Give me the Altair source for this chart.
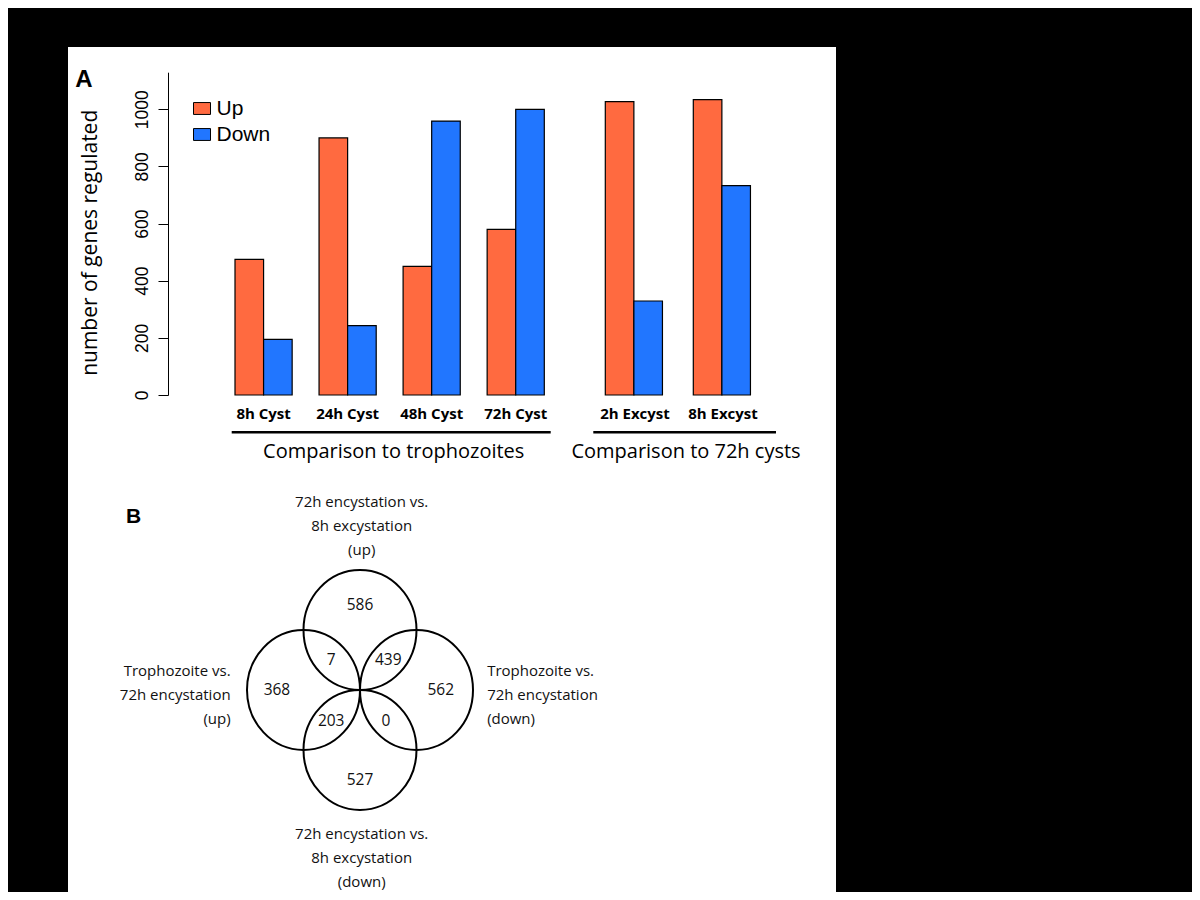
import altair as alt
import pandas as pd

# ---------------- Panel A data ----------------
cyst_samples = ["8h Cyst", "24h Cyst", "48h Cyst", "72h Cyst"]
excyst_samples = ["2h Excyst", "8h Excyst"]
directions = ["Up", "Down"]
cyst_up = [475, 900, 450, 580]
cyst_down = [195, 243, 959, 1000]
excyst_up = [1027, 1034]
excyst_down = [329, 733]
y_ticks = [0, 200, 400, 600, 800, 1000]
bar_colors = ["#FF6A40", "#2176FF"]
group_titles = ["Comparison to trophozoites", "Comparison to 72h cysts"]

# ---------------- Panel B data ----------------
venn_set_names = [
    "72h encystation vs.\n8h excystation\n(up)",
    "Trophozoite vs.\n72h encystation\n(up)",
    "Trophozoite vs.\n72h encystation\n(down)",
    "72h encystation vs.\n8h excystation\n(down)",
]
venn_counts = [586, 7, 439, 368, 562, 203, 0, 527]

# Venn layout (abstract units, one circle radius = 1)
circle_cx = [0, -1, 1, 0]
circle_cy = [1, 0, 0, -1]
count_px = [0, -0.51, 0.5, -1.47, 1.43, -0.51, 0.46, 0]
count_py = [1.42, 0.5, 0.5, 0, 0, -0.51, -0.51, -1.5]
label_px = [0.03, -2.29, 2.25, 0.03]
label_py = [3.14, 0.32, 0.32, -2.40]


def bars_df(samples, up, down):
    rows = []
    for s, u, d in zip(samples, up, down):
        rows.append({"sample": s, "dir": "Up", "n": u})
        rows.append({"sample": s, "dir": "Down", "n": d})
    return pd.DataFrame(rows)


yscale = alt.Scale(domain=[0, 1130], range=[348, 25.2], nice=False, zero=True)

legend = alt.Legend(
    title=None, orient="none", legendX=123.5, legendY=51,
    symbolType="M -1 -0.7 H 1 V 0.7 H -1 Z", symbolSize=289,
    symbolStrokeColor="black", symbolStrokeWidth=1, symbolOpacity=1,
    labelFont="Liberation Sans", labelFontSize=21, labelColor="black",
    labelOffset=4, rowPadding=4, padding=0,
)
color = alt.Color("dir:N", sort=directions,
                  scale=alt.Scale(domain=directions, range=bar_colors),
                  legend=legend)


def xaxis():
    return alt.Axis(orient="bottom", offset=-497, domain=False, ticks=False,
                    tickSize=0, labelPadding=11, labelFont="Open Sans",
                    labelFontWeight="bold", labelFontSize=15,
                    labelColor="black", title=None, labelAngle=0)


yaxis = alt.Axis(
    orient="left", offset=-100, values=y_ticks, format="d", tickSize=10,
    tickColor="black", domainColor="black", tickWidth=1, domainWidth=1,
    labelFont="Liberation Sans", labelFontSize=17.5, labelAngle=270,
    labelAlign="center", labelBaseline="alphabetic", labelPadding=11,
    labelColor="black", labelOverlap=False, grid=False,
    title="number of genes regulated", titleFont="Open Sans",
    titleFontSize=21, titleFontWeight="normal", titleColor="black",
    titleAngle=270, titleAlign="center", titleBaseline="middle",
    titleX=-78, titleY=195.3,
)

left = alt.Chart(bars_df(cyst_samples, cyst_up, cyst_down)).mark_bar(
    stroke="black", strokeWidth=1.2
).encode(
    x=alt.X("sample:N", sort=cyst_samples,
            scale=alt.Scale(range=[167, 476.3], paddingInner=0.32, paddingOuter=0),
            axis=xaxis()),
    xOffset=alt.XOffset("dir:N", sort=directions,
                        scale=alt.Scale(paddingInner=0, paddingOuter=0)),
    y=alt.Y("n:Q", scale=yscale, axis=yaxis),
    color=color,
)

right = alt.Chart(bars_df(excyst_samples, excyst_up, excyst_down)).mark_bar(
    stroke="black", strokeWidth=1.2
).encode(
    x=alt.X("sample:N", sort=excyst_samples,
            scale=alt.Scale(range=[537.3, 684.7], paddingInner=0.325, paddingOuter=0),
            axis=xaxis()),
    xOffset=alt.XOffset("dir:N", sort=directions,
                        scale=alt.Scale(paddingInner=0, paddingOuter=0)),
    y=alt.Y("n:Q", scale=yscale, axis=None),
    color=color,
)

# ---------------- Venn ----------------
vx = alt.Scale(domain=[-1, 1], range=[235.5, 348.5], nice=False, zero=False)
vy = alt.Scale(domain=[-1, 1], range=[703, 583], nice=False, zero=False)
ellipse = "M -0.9417 0 A 0.9417 1 0 1 0 0.9417 0 A 0.9417 1 0 1 0 -0.9417 0 Z"

circles = alt.Chart(pd.DataFrame({"cx": circle_cx, "cy": circle_cy})).mark_point(
    shape=ellipse, size=14400, filled=False, color="black", stroke="black",
    strokeWidth=2, opacity=1
).encode(
    x=alt.X("cx:Q", scale=vx, axis=None),
    y=alt.Y("cy:Q", scale=vy, axis=None),
)

counts = alt.Chart(pd.DataFrame({"px": count_px, "py": count_py, "n": venn_counts})).mark_text(
    font="Open Sans", fontSize=15.5, color="#111111", baseline="middle", align="center"
).encode(
    x=alt.X("px:Q", scale=vx, axis=None),
    y=alt.Y("py:Q", scale=vy, axis=None),
    text="n:Q",
)

labels_df = pd.DataFrame({"px": label_px, "py": label_py, "name": venn_set_names})


def venn_labels(idx, align):
    return alt.Chart(labels_df.iloc[idx]).mark_text(
        font="Open Sans", fontSize=15, color="#111111", baseline="middle",
        align=align, lineBreak="\n", lineHeight=24
    ).encode(
        x=alt.X("px:Q", scale=vx, axis=None),
        y=alt.Y("py:Q", scale=vy, axis=None),
        text="name:N",
    )


lab_c = venn_labels([0, 3], "center")
lab_l = venn_labels([1], "right")
lab_r = venn_labels([2], "left")

# ---------------- annotations ----------------
one = pd.DataFrame({"k": [0]})
rule_a = alt.Chart(one).mark_rule(color="black", strokeWidth=2.5).encode(
    x=alt.value(163.7), x2=alt.value(482.7), y=alt.value(385.3))
rule_b = alt.Chart(one).mark_rule(color="black", strokeWidth=2.5).encode(
    x=alt.value(525.3), x2=alt.value(708), y=alt.value(385.3))
title_a = alt.Chart(one).mark_text(
    font="Open Sans", fontSize=20, color="black", baseline="middle", align="center"
).encode(x=alt.value(325.7), y=alt.value(404.7), text=alt.value(group_titles[0]))
title_b = alt.Chart(one).mark_text(
    font="Open Sans", fontSize=20, color="black", baseline="middle", align="center"
).encode(x=alt.value(618), y=alt.value(404.7), text=alt.value(group_titles[1]))
panel_a = alt.Chart(one).mark_text(
    font="Liberation Sans", fontSize=24, fontWeight="bold", color="black",
    baseline="alphabetic", align="center"
).encode(x=alt.value(16), y=alt.value(40), text=alt.value("A"))
panel_b = alt.Chart(one).mark_text(
    font="Liberation Sans", fontSize=21, fontWeight="bold", color="black",
    baseline="alphabetic", align="center"
).encode(x=alt.value(65.5), y=alt.value(476), text=alt.value("B"))

chart = alt.layer(
    left, right, circles, counts, lab_c, lab_l, lab_r,
    rule_a, rule_b, title_a, title_b, panel_a, panel_b,
).resolve_scale(
    x="independent", y="independent"
).properties(
    width=768, height=845, autosize="none", background="black",
    padding={"left": 60, "top": 39, "right": 356, "bottom": 0},
).configure_view(fill="white", strokeWidth=0)

chart.save("out.html", embed_options={"renderer": "svg", "actions": False})
